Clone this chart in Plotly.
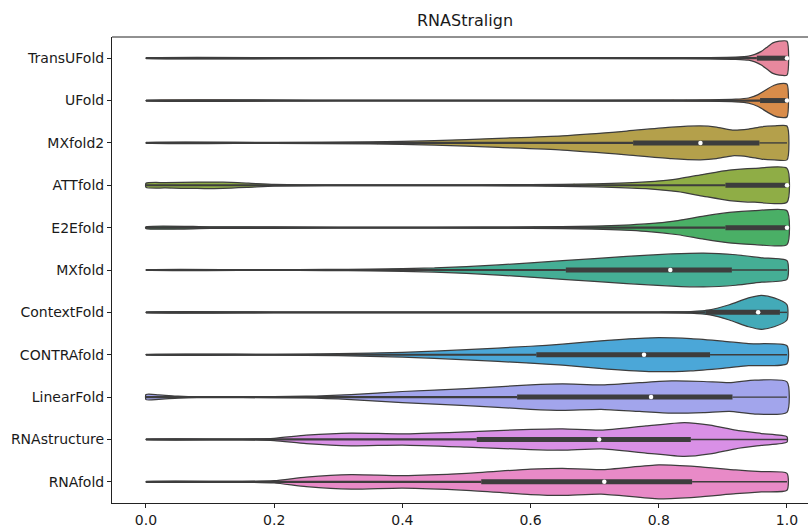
import plotly.graph_objects as go

# ---------------- data ----------------
categories = ["TransUFold", "UFold", "MXfold2", "ATTfold", "E2Efold", "MXfold",
              "ContextFold", "CONTRAfold", "LinearFold", "RNAstructure", "RNAfold"]

colors = ["#e8889e", "#d98c4a", "#b4a04b", "#8fad46", "#4aaf66", "#45ae95",
          "#43aab8", "#4ba7d8", "#a2a5ec", "#d990e6", "#e88ac7"]

# box statistics (Q1, median, Q3), data range 0..1
q1 = [0.953, 0.958, 0.760, 0.904, 0.904, 0.655, 0.873, 0.609, 0.579, 0.516, 0.523]
median = [1.0, 1.0, 0.865, 1.0, 1.0, 0.818, 0.955, 0.777, 0.788, 0.707, 0.715]
q3 = [1.0, 1.0, 0.957, 1.0, 1.0, 0.914, 0.989, 0.880, 0.915, 0.850, 0.852]
data_min = [0.0] * 11
data_max = [1.0] * 11

# violin density profiles (score value, relative half-width)
transufold_x = [0, 0.3, 0.6, 0.8, 0.88, 0.92, 0.94, 0.95, 0.96, 0.97, 0.978, 0.988, 1.0]
transufold_w = [0.01, 0.01, 0.01, 0.02, 0.04, 0.07, 0.12, 0.22, 0.4, 0.68, 0.9, 1.0, 1.0]
ufold_x = [0, 0.3, 0.6, 0.8, 0.88, 0.92, 0.94, 0.955, 0.97, 0.98, 0.99, 1.0]
ufold_w = [0.01, 0.01, 0.01, 0.02, 0.04, 0.08, 0.15, 0.35, 0.7, 0.9, 1.0, 0.97]
mxfold2_x = [0, 0.2, 0.35, 0.45, 0.55, 0.65, 0.75, 0.82, 0.865, 0.89, 0.915, 0.94, 0.96, 0.98, 1.0]
mxfold2_w = [0.01, 0.02, 0.06, 0.13, 0.27, 0.42, 0.7, 0.93, 1.0, 0.93, 0.76, 0.82, 0.95, 1.0, 1.0]
attfold_x = [0, 0.03, 0.08, 0.12, 0.16, 0.2, 0.28, 0.45, 0.6, 0.7, 0.78, 0.83, 0.87, 0.91, 0.95, 1.0]
attfold_w = [0.12, 0.16, 0.19, 0.18, 0.12, 0.05, 0.02, 0.02, 0.04, 0.09, 0.2, 0.38, 0.65, 0.9, 1.0, 1.0]
e2efold_x = [0, 0.1, 0.2, 0.3, 0.45, 0.6, 0.7, 0.78, 0.83, 0.87, 0.91, 0.95, 1.0]
e2efold_w = [0.05, 0.05, 0.04, 0.02, 0.02, 0.04, 0.09, 0.22, 0.42, 0.68, 0.9, 1.0, 1.0]
mxfold_x = [0, 0.2, 0.28, 0.35, 0.45, 0.55, 0.65, 0.75, 0.82, 0.87, 0.92, 0.96, 1.0]
mxfold_w = [0.01, 0.01, 0.03, 0.05, 0.12, 0.3, 0.55, 0.8, 0.95, 1.0, 0.9, 0.72, 0.55]
contextfold_x = [0, 0.2, 0.3, 0.5, 0.7, 0.8, 0.85, 0.88, 0.91, 0.94, 0.96, 0.98, 1.0]
contextfold_w = [0.01, 0.02, 0.02, 0.01, 0.01, 0.02, 0.05, 0.15, 0.45, 0.85, 1.0, 0.85, 0.45]
contrafold_x = [0, 0.2, 0.3, 0.4, 0.5, 0.6, 0.65, 0.72, 0.79, 0.85, 0.9, 0.94, 1.0]
contrafold_w = [0.01, 0.02, 0.06, 0.14, 0.3, 0.5, 0.62, 0.85, 1.0, 0.95, 0.8, 0.65, 0.53]
linearfold_x = [0, 0.02, 0.05, 0.08, 0.15, 0.25, 0.32, 0.4, 0.5, 0.6, 0.65, 0.71, 0.77, 0.82, 0.87, 0.91, 0.95, 1.0]
linearfold_w = [0.15, 0.13, 0.06, 0.02, 0.02, 0.05, 0.15, 0.33, 0.5, 0.72, 0.78, 0.72, 0.85, 0.95, 0.92, 0.85, 1.0, 0.9]
rnastructure_x = [0, 0.15, 0.2, 0.25, 0.32, 0.4, 0.5, 0.6, 0.65, 0.71, 0.78, 0.84, 0.88, 0.92, 0.96, 1.0]
rnastructure_w = [0.01, 0.02, 0.07, 0.25, 0.38, 0.33, 0.45, 0.6, 0.63, 0.55, 0.8, 1.0, 0.85, 0.55, 0.35, 0.16]
rnafold_x = [0, 0.15, 0.2, 0.25, 0.32, 0.4, 0.5, 0.6, 0.65, 0.71, 0.8, 0.86, 0.92, 0.96, 1.0]
rnafold_w = [0.01, 0.02, 0.07, 0.28, 0.43, 0.37, 0.5, 0.75, 0.8, 0.72, 1.0, 0.9, 0.7, 0.6, 0.5]

x_ticks = [0.0, 0.2, 0.4, 0.6, 0.8, 1.0]
x_tick_labels = ["0.0", "0.2", "0.4", "0.6", "0.8", "1.0"]
title_text = "RNAStralign"

profiles = [
    (transufold_x, transufold_w), (ufold_x, ufold_w), (mxfold2_x, mxfold2_w),
    (attfold_x, attfold_w), (e2efold_x, e2efold_w), (mxfold_x, mxfold_w),
    (contextfold_x, contextfold_w), (contrafold_x, contrafold_w),
    (linearfold_x, linearfold_w), (rnastructure_x, rnastructure_w),
    (rnafold_x, rnafold_w),
]

# ---------------- figure ----------------
HALF = 0.4
EDGE = "#3d3d3d"
fig = go.Figure()

for i, (name, (px, pw)) in enumerate(zip(categories, profiles)):
    xs = list(px) + list(reversed(px)) + [px[0]]
    ys = [i - HALF * w for w in pw] + [i + HALF * w for w in reversed(pw)] + [i - HALF * pw[0]]
    fig.add_trace(go.Scatter(
        x=xs, y=ys, mode="lines", fill="toself", fillcolor=colors[i],
        line=dict(color=EDGE, width=1.25, shape="spline", smoothing=0.6),
        hoverinfo="skip", showlegend=False, name=name))

for i in range(len(categories)):
    # lower whisker (where the violin is very thin, it reads as a thick dark line)
    fig.add_trace(go.Scatter(x=[data_min[i], q1[i]], y=[i, i], mode="lines",
                             line=dict(color=EDGE, width=2.2), hoverinfo="skip", showlegend=False))
    # upper whisker
    fig.add_trace(go.Scatter(x=[q3[i], data_max[i]], y=[i, i], mode="lines",
                             line=dict(color=EDGE, width=1.4), hoverinfo="skip", showlegend=False))
    fig.add_trace(go.Scatter(x=[q1[i], q3[i]], y=[i, i], mode="lines",
                             line=dict(color=EDGE, width=5), hoverinfo="skip", showlegend=False))
    fig.add_trace(go.Scatter(x=[median[i]], y=[i], mode="markers",
                             marker=dict(color="white", size=4.5, line=dict(width=0)),
                             hoverinfo="skip", showlegend=False))

fig.update_layout(
    width=808, height=528,
    margin=dict(l=112, r=0, t=37, b=23),
    paper_bgcolor="white", plot_bgcolor="white",
    font=dict(family="DejaVu Sans", size=14, color="#1a1a1a"),
    title=dict(text=title_text, x=465 / 808, xanchor="center", y=1 - 20 / 528, yanchor="middle",
               font=dict(size=16, color="#1a1a1a")),
    xaxis=dict(range=[-0.053, 1.0328], tickvals=x_ticks, ticktext=x_tick_labels,
               showgrid=False, zeroline=False, showline=True, linecolor="#222", linewidth=1,
               ticks="outside", ticklen=4, tickcolor="#222", tickwidth=1),
    yaxis=dict(range=[10.5, -0.5], tickvals=list(range(len(categories))), ticktext=categories,
               showgrid=False, zeroline=False, showline=True, linecolor="#222", linewidth=1,
               ticks="outside", ticklen=4, tickcolor="#222", tickwidth=1),
    shapes=[dict(type="line", xref="paper", yref="paper", x0=0, x1=1, y0=1, y1=1,
                 line=dict(color="#222", width=1))],
)

fig.write_html("out.html", config={"displayModeBar": False},
               post_script="document.body.style.margin='0';document.body.style.overflow='hidden';")
